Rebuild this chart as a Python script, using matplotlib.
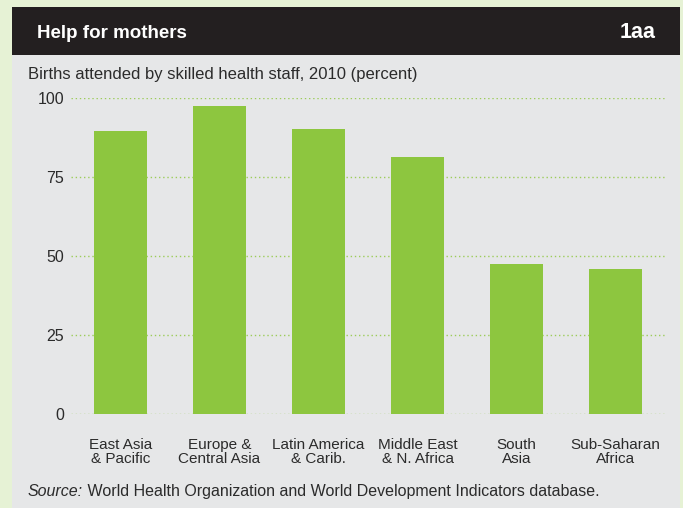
# Births attended by skilled health staff, by region (2010)
import numpy as np
import matplotlib.pyplot as plt
from matplotlib.patches import Rectangle

regions = ['East Asia\n& Pacific', 'Europe &\nCentral Asia', 'Latin America\n& Carib.',
           'Middle East\n& N. Africa', 'South\nAsia', 'Sub-Saharan\nAfrica']
births_pct = [89.6, 97.6, 90.3, 81.4, 47.6, 46.0]
y_ticks = [0, 25, 50, 75, 100]

bar_green = '#8dc63f'
grid_green = '#9ccc5a'
panel_gray = '#e6e7e8'
header_dark = '#231f20'
outer_bg = '#e6f2d5'
text_col = '#2b2b2b'

plt.rcParams['font.family'] = ['Liberation Sans', 'DejaVu Sans']

W, H = 683, 508
fig = plt.figure(figsize=(W / 100, H / 100), dpi=100, facecolor=outer_bg)

# panel and header boxes (figure pixels -> fraction)
def box(x0, y0, x1, y1, color):
    fig.patches.append(Rectangle((x0 / W, 1 - y1 / H), (x1 - x0) / W, (y1 - y0) / H,
                                 transform=fig.transFigure, facecolor=color,
                                 edgecolor='none', zorder=-10))

box(12, 55, 680, 508, panel_gray)
box(12, 7, 680, 55, header_dark)

fig.text(37 / W, 1 - 33 / H, 'Help for mothers', color='white', fontsize=13.5,
         fontweight='bold', va='center', ha='left')
fig.text(656 / W, 1 - 33 / H, '1aa', color='white', fontsize=15.5,
         fontweight='bold', va='center', ha='right')

fig.text(28 / W, 1 - 75 / H, 'Births attended by skilled health staff, 2010 (percent)',
         color=text_col, fontsize=12, va='center', ha='left')

ax = fig.add_axes([71 / W, 1 - 414.3 / H, (665 - 71) / W, 316 / H])
ax.set_facecolor('none')
x = np.arange(len(regions))
for yv in y_ticks:
    ax.axhline(yv, color=grid_green, linestyle=(0, (1, 2)), linewidth=1.0, zorder=1)
ax.bar(x, births_pct, width=0.545, color=bar_green, zorder=2)
ax.set_xlim(-0.5, len(regions) - 0.5)
ax.set_ylim(0, 100)
ax.set_yticks(y_ticks)
ax.set_yticklabels([str(v) for v in y_ticks])
ax.set_xticks(x)
ax.set_xticklabels(regions, linespacing=1.05)
ax.tick_params(axis='y', length=0, pad=5, labelsize=11.5, labelcolor=text_col)
ax.tick_params(axis='x', length=0, pad=17, labelsize=11, labelcolor=text_col)
for s in ax.spines.values():
    s.set_visible(False)

src = fig.text(28 / W, 1 - 499 / H, 'Source:', style='italic', color=text_col,
               fontsize=11.5, va='bottom', ha='left')
fig.add_artist(plt.Annotation(' World Health Organization and World Development Indicators database.',
                              xy=(1, 0), xycoords=src, va='bottom', ha='left',
                              color=text_col, fontsize=11.5, annotation_clip=False))

fig.savefig('out.png', dpi=100, facecolor=outer_bg)
